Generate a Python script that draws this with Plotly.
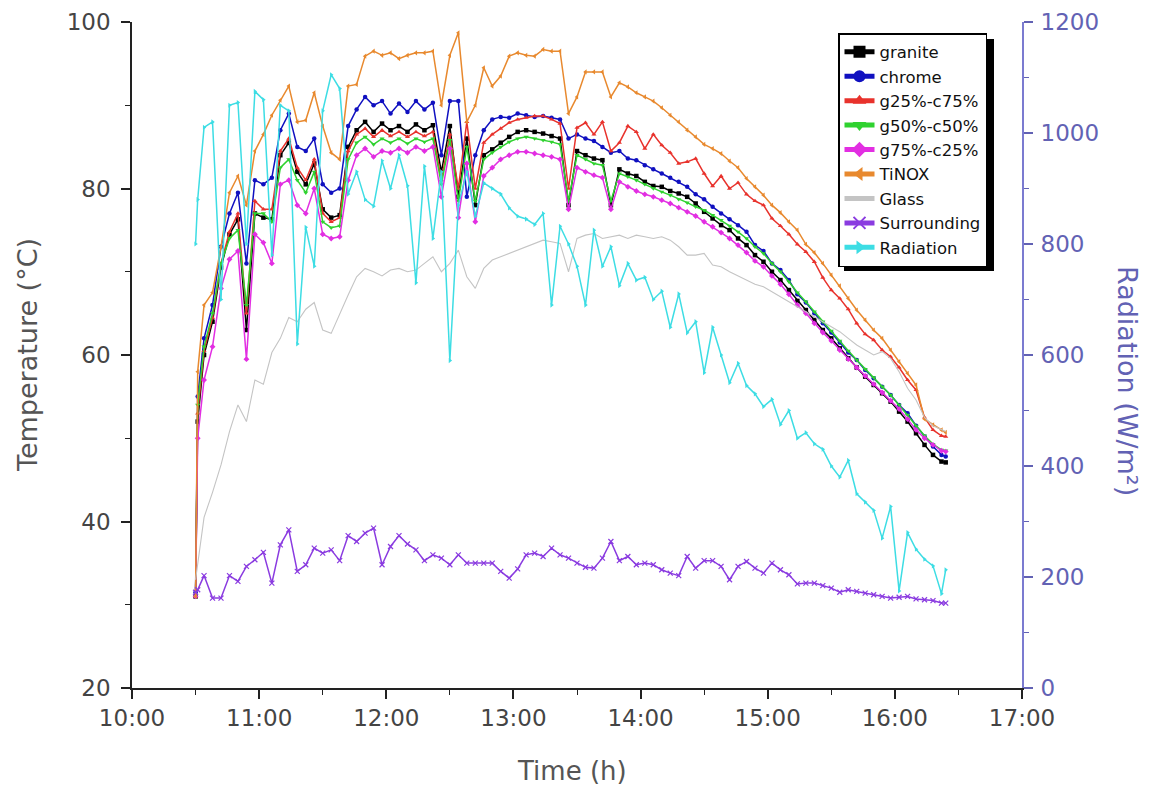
import plotly.graph_objects as go

# time in minutes after 10:00
TIME_MIN = [30, 31] + list(range(34, 383, 4)) + [384]

TICK_VALS = [0, 60, 120, 180, 240, 300, 360, 420]
TICK_TEXT = ["10:00", "11:00", "12:00", "13:00", "14:00", "15:00", "16:00", "17:00"]

granite = [31, 52, 60, 64, 70.5, 74.5, 76.3, 63, 77, 76.5,
           76.3, 84, 85.5, 82, 80.5, 83, 77.5, 76.5, 76.8, 85,
           87, 88, 86.8, 87.8, 87, 87.5, 86.8, 87.7, 87, 87.6,
           82, 87.5, 79, 86, 78, 84, 84.7, 85.5, 86.2, 86.8,
           87, 86.8, 86.6, 86.3, 86, 78, 84.5, 84, 83.6, 83.4,
           78, 82.3, 81.8, 81.5, 80.8, 80.3, 80.2, 79.7, 79.4, 79,
           78.2, 77.2, 76.4, 75.6, 75, 74, 73.2, 72, 71.2, 70,
           69, 67.8, 66.5, 65.4, 64.2, 63, 62, 60.8, 59.6, 58.5,
           57.4, 56.4, 55.4, 54.4, 53.2, 52, 50.6, 49.2, 48, 47.2,
           47.1]

chrome = [31.5, 55, 62, 66, 73, 77, 79.5, 71, 81, 80.5,
          81.3, 87, 89, 85, 84.5, 86, 80.5, 79.5, 80, 87.5,
          89.5, 91, 90, 90.5, 89, 90.2, 89.2, 90.5, 89.5, 90.3,
          84, 90.5, 90.5, 79, 84, 87, 88.3, 88.6, 88.5, 89,
          88.8, 88.6, 88.7, 88.5, 88.3, 86, 86.5, 86, 85.7, 85,
          84.3, 84.5, 83.6, 83.4, 82.8, 82.3, 81.8, 81.3, 80.8, 80.2,
          79.3, 78.7, 77.8, 77, 76.3, 75.6, 74.8, 73.2, 72.5, 71,
          70.2, 69, 67.3, 66.3, 65, 63.8, 62.7, 61.5, 60.3, 59.4,
          58.2, 57.2, 56.2, 55.2, 54, 53, 51.5, 50.2, 49, 48,
          47.8]

g25_c75 = [31, 53, 60.5, 64.5, 71, 74.8, 77, 65, 78.5, 77.5,
           77.5, 84.5, 86, 82.5, 81, 83.5, 77, 76, 76.5, 84.5,
           86.5, 87.2, 86.2, 87, 86.3, 86.8, 86.2, 86.8, 86.3, 86.8,
           81, 86.5, 80, 88, 80, 85.5, 86.5, 87.2, 87.9, 88.3,
           88.5, 88.7, 88.7, 88.3, 87.8, 80, 87.3, 87.9, 86.5, 88,
           84.5, 85.5, 87.5, 86.8, 84.8, 86.5, 85.2, 84.3, 83, 83.2,
           83.6, 81.8, 80.3, 81.5, 80, 80.7, 79.3, 78.5, 78, 76.4,
           75.5, 74.5, 73.3, 72.4, 71.2, 69.3, 67.8, 66.8, 65.5, 63.8,
           62.5, 61.8, 60.6, 59.8, 58.5, 57, 55.8, 52.5, 51, 50.3,
           50.2]

g50_c50 = [31, 54, 61, 65, 71, 74, 75, 66, 77, 77,
           76, 82.5, 83.5, 81, 79.5, 82, 76, 75.3, 75.5, 83.5,
           85.5, 86.2, 85.3, 86, 85.5, 86, 85.4, 86, 85.6, 86,
           80.5, 85.8, 78.5, 85, 78.5, 83.5, 84.3, 85, 85.6, 86,
           86.2, 86, 85.8, 85.6, 85.3, 78.5, 84, 83.5, 83, 82.8,
           78.5, 81.8, 81.4, 81, 80.5, 80, 79.6, 79.2, 78.7, 78.3,
           77.8, 77.4, 76.8, 76.2, 75.5, 74.8, 74, 73, 72.2, 71,
           70, 68.8, 67.5, 66.4, 65.2, 64, 62.9, 61.7, 60.5, 59.4,
           58.3, 57.3, 56.2, 55.2, 54, 52.8, 51.5, 50.3, 49.3, 48.6,
           48.5]

g75_c25 = [31, 50, 57, 61, 68, 71.5, 72.5, 59.5, 74.5, 73.5,
           71, 80.5, 81, 78, 77, 80, 74.5, 74, 74.2, 81,
           84, 84.8, 83.8, 84.5, 84.3, 84.8, 84.3, 85, 84.5, 85,
           79, 84.8, 76.5, 83, 76, 81.5, 82.5, 83.5, 84, 84.4,
           84.4, 84.2, 84, 83.8, 83.5, 77.5, 82.5, 82, 81.6, 81.3,
           77.5, 80.8, 80.2, 79.7, 79.3, 79, 78.6, 78.2, 77.7, 77.2,
           76.7, 76, 75.4, 74.7, 74, 73.2, 72.3, 71.3, 70.6, 69.5,
           68.5, 67.3, 66, 65, 63.8, 62.7, 61.7, 60.6, 59.5, 58.5,
           57.5, 56.5, 55.5, 54.5, 53.5, 52.3, 51, 50, 49.2, 48.5,
           48.4]

tinox = [31, 58, 66, 67.5, 73, 79.5, 81.5, 78, 84.5, 86.5,
         88.8, 90.6, 92.3, 88, 88.2, 91.5, 87.5, 84.3, 83.5, 92.3,
         92.5, 95.9, 96.5, 96, 96.3, 95.6, 96, 96.3, 96.3, 96.5,
         90, 96, 98.7, 88, 90, 94.5, 92.3, 93.5, 95.9, 96.3,
         96, 95.9, 96.7, 96.5, 96.5, 89, 91, 94, 94, 94,
         91, 92.7, 92.2, 91.5, 91, 90.5, 89.7, 88.8, 88, 87,
         86.2, 85.3, 84.8, 84.2, 83.3, 82.5, 81.2, 80.2, 79.2, 78,
         77.1, 76, 75, 73.3, 72.3, 71, 69.6, 68.3, 66.8, 65.4,
         64.2, 63, 62, 60.6, 59.2, 57.8, 56.4, 52.3, 51.6, 51,
         50.7]

glass = [33, 35, 40.5, 43.5, 46.8, 50.8, 54, 52, 57, 56.5,
         60.3, 62, 64.5, 64, 65.5, 66.3, 63, 62.6, 65, 67.2,
         69.4, 70.4, 70, 69.5, 70.2, 70.4, 70, 70.2, 71, 71.8,
         70, 71, 72.6, 69.4, 68, 70.4, 71.4, 71.8, 72.2, 72.6,
         73, 73.4, 73.8, 73.6, 73.4, 70, 74, 74.4, 74.6, 74,
         74.2, 74.4, 74, 74.4, 74.2, 74, 74.2, 73.8, 73, 72,
         72, 72.2, 70.8, 70.6, 70, 69.5, 69, 68.5, 68.2, 67.6,
         67, 66.4, 65.8, 65.2, 64.6, 64, 63.4, 62.8, 62, 61.2,
         60.6, 60, 60.4, 59.6, 58, 56, 54.6, 52.5, 51.5, 51,
         50.8]

surrounding = [31.5, 31.8, 33.5, 30.8, 30.8, 33.5, 32.8, 34.6, 35.4, 36.3,
               32.6, 37.2, 39.0, 34.0, 34.8, 36.8, 36.2, 36.6, 35.3, 38.3,
               37.6, 38.6, 39.2, 34.8, 37.0, 38.3, 37.3, 36.6, 35.3, 36.0,
               35.6, 34.8, 36.0, 35.0, 35.0, 35.0, 35.0, 34.0, 33.2, 34.3,
               36.0, 36.2, 35.8, 36.8, 36.0, 35.6, 35.0, 34.5, 34.4, 35.6,
               37.6, 35.3, 35.8, 34.8, 35.0, 34.8, 34.2, 33.8, 33.5, 35.8,
               34.4, 35.3, 35.3, 34.6, 33.0, 34.6, 35.2, 34.4, 33.8, 35.0,
               34.2, 33.6, 32.5, 32.6, 32.6, 32.3, 32.0, 31.5, 31.8, 31.6,
               31.4, 31.2, 31.0, 30.8, 30.9, 31.0, 30.7, 30.6, 30.5, 30.2,
               30.2]

radiation = [800, 880, 1010, 1020, 700, 1050, 1055, 800, 1075, 1060,
             780, 1050, 1040, 620, 830, 760, 1040, 1105, 1080, 890,
             930, 880, 868, 950, 900, 960, 905, 730, 940, 810,
             930, 590, 870, 930, 850, 910, 900, 890, 865, 850,
             845, 835, 855, 690, 832, 800, 760, 690, 825, 760,
             795, 725, 765, 735, 740, 700, 715, 650, 710, 640,
             660, 568, 650, 600, 550, 585, 545, 530, 507, 520,
             475, 500, 450, 460, 440, 430, 400, 380, 410, 350,
             335, 320, 270, 327, 175, 280, 250, 232, 220, 170,
             213]

SERIES = [
    ("granite", granite, "#000000", "square"),
    ("chrome", chrome, "#1010c0", "circle"),
    ("g25%-c75%", g25_c75, "#e8322c", "triangle-up"),
    ("g50%-c50%", g50_c50, "#2fd22f", "triangle-down"),
    ("g75%-c25%", g75_c25, "#e22ee2", "diamond"),
    ("TiNOX", tinox, "#e8892e", "triangle-left"),
]

fig = go.Figure()
for name, vals, col, sym in SERIES:
    fig.add_trace(go.Scatter(
        x=TIME_MIN, y=vals, name=name, mode="lines+markers",
        line=dict(color=col, width=1.5),
        marker=dict(symbol=sym, size=4.5, color=col),
    ))

fig.add_trace(go.Scatter(
    x=TIME_MIN, y=glass, name="Glass", mode="lines",
    line=dict(color="#c4c4c4", width=1.1),
))
fig.add_trace(go.Scatter(
    x=TIME_MIN, y=surrounding, name="Surrounding", mode="lines+markers",
    line=dict(color="#8a3be0", width=1.5),
    marker=dict(symbol="x-thin", size=5, color="#8a3be0",
                line=dict(color="#8a3be0", width=1.2)),
))
fig.add_trace(go.Scatter(
    x=TIME_MIN, y=radiation, name="Radiation", mode="lines+markers",
    yaxis="y2",
    line=dict(color="#3ddde4", width=1.5),
    marker=dict(symbol="triangle-right", size=4.5, color="#3ddde4"),
))

TICKF = dict(family="DejaVu Sans", size=23, color="#444444")
RADC = "#6262b4"

# legend box (page pixels) and its drop shadow
LEG_X, LEG_Y = 838, 33
LEG_W, LEG_H = 150, 232
SH = 6
def px_x(p):
    return (p - 132) / 890.0
def px_y(p):
    return (688 - p) / 666.0

fig.update_layout(
    width=1155, height=789,
    margin=dict(l=124, r=141, t=14, b=109, autoexpand=False),
    paper_bgcolor="white", plot_bgcolor="white",
    showlegend=True,
    xaxis=dict(
        range=[0, 420], tickmode="array", tickvals=TICK_VALS, ticktext=TICK_TEXT,
        ticks="outside", ticklen=9, tickwidth=1.5, tickcolor="#222",
        showline=True, linecolor="#222", linewidth=1.5, automargin=False,
        showgrid=False, zeroline=False, tickfont=TICKF,
        minor=dict(tickmode="array", tickvals=[30, 90, 150, 210, 270, 330, 390],
                   ticks="outside", ticklen=5, tickwidth=1.2, tickcolor="#222"),
    ),
    xaxis2=dict(
        range=[0, 420], overlaying="x", side="top", anchor="y",
        tickmode="array", tickvals=list(range(0, 421, 30)),
        ticks="inside", ticklen=8, tickwidth=1.2, tickcolor="#777",
        showline=True, linecolor="#999", linewidth=1.5, automargin=False,
        showticklabels=False, showgrid=False, zeroline=False,
    ),
    yaxis=dict(
        range=[20, 100], tickmode="array", tickvals=[20, 40, 60, 80, 100],
        ticks="outside", ticklen=9, tickwidth=1.5, tickcolor="#222",
        showline=True, linecolor="#222", linewidth=1.5, automargin=False,
        showgrid=False, zeroline=False, tickfont=TICKF, ticklabelstandoff=6,
        minor=dict(tickmode="array", tickvals=[30, 50, 70, 90],
                   ticks="outside", ticklen=5, tickwidth=1.2, tickcolor="#222"),
    ),
    yaxis2=dict(
        range=[0, 1200], overlaying="y", side="right", anchor="x",
        tickmode="array", tickvals=[0, 200, 400, 600, 800, 1000, 1200],
        ticks="outside", ticklen=9, tickwidth=1.5, tickcolor=RADC,
        showline=True, linecolor="#7b7bd0", linewidth=2, automargin=False,
        showgrid=False, zeroline=False, ticklabelstandoff=3,
        tickfont=dict(family="DejaVu Sans", size=23, color=RADC),
        minor=dict(tickmode="array", tickvals=[100, 300, 500, 700, 900, 1100],
                   ticks="outside", ticklen=5, tickwidth=1.2, tickcolor=RADC),
    ),
    legend=dict(
        x=px_x(LEG_X), y=px_y(LEG_Y), xanchor="left", yanchor="top",
        bgcolor="white", bordercolor="#000", borderwidth=1.5,
        font=dict(family="DejaVu Sans", size=16.5, color="#111"),
        itemsizing="constant", tracegroupgap=0,
    ),
    annotations=[
        dict(text="Temperature (°C)", xref="paper", yref="paper",
             x=px_x(27), y=px_y(355), xanchor="center", yanchor="middle",
             textangle=-90, showarrow=False,
             font=dict(family="DejaVu Sans", size=27, color="#555555")),
        dict(text="Radiation (W/m²)", xref="paper", yref="paper",
             x=px_x(1128), y=px_y(381), xanchor="center", yanchor="middle",
             textangle=90, showarrow=False,
             font=dict(family="DejaVu Sans", size=27, color=RADC)),
        dict(text="Time (h)", xref="paper", yref="paper",
             x=px_x(572), y=px_y(771), xanchor="center", yanchor="middle",
             showarrow=False,
             font=dict(family="DejaVu Sans", size=26, color="#555555")),
    ],
    shapes=[
        dict(type="rect", xref="paper", yref="paper",
             x0=px_x(LEG_X + SH), x1=px_x(LEG_X + LEG_W + SH),
             y0=px_y(LEG_Y + LEG_H + SH), y1=px_y(LEG_Y + SH),
             fillcolor="#000", line=dict(width=0), layer="above"),
    ],
)

fig.write_html("out.html")
